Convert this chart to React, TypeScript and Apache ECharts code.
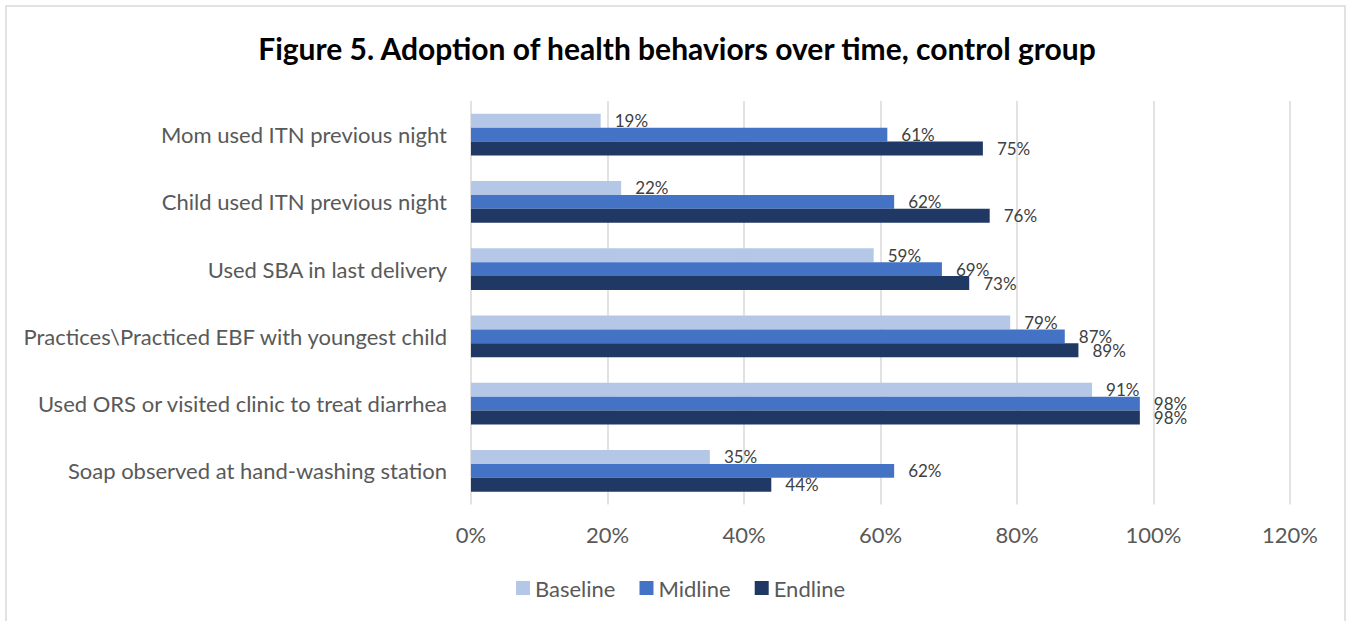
import React, { useEffect, useRef } from "react";
import * as echarts from "echarts";

// Behaviours, top to bottom
const categories = [
  "Mom used ITN previous night",
  "Child used ITN previous night",
  "Used SBA in last delivery",
  "Practices\\Practiced EBF with youngest child",
  "Used ORS or visited clinic to treat diarrhea",
  "Soap observed at hand-washing station",
];

// Percent of respondents per survey round
const baseline = [19, 22, 59, 79, 91, 35];
const midline = [61, 62, 69, 87, 98, 62];
const endline = [75, 76, 73, 89, 98, 44];

const seriesNames = ["Baseline", "Midline", "Endline"];
const seriesColors = ["#B4C7E7", "#4472C4", "#203864"];

const xTicks = { min: 0, max: 120, interval: 20 };

const FONT = "Lato, 'Noto Sans', sans-serif";

export default function App() {
  const ref = useRef<HTMLDivElement>(null);

  useEffect(() => {
    if (!ref.current) return;
    const chart = echarts.init(ref.current, null, { renderer: "svg" });
    const values = [baseline, midline, endline];

    chart.setOption({
      animation: false,
      backgroundColor: "#ffffff",
      textStyle: { fontFamily: FONT },
      graphic: [
        {
          type: "rect",
          shape: { x: 6, y: 6, width: 1339, height: 630 },
          style: { fill: "none", stroke: "#d9d9d9", lineWidth: 1.5 },
          silent: true,
          z: -1,
        },
        {
          type: "text",
          x: 677,
          y: 48,
          style: {
            text: "Figure 5. Adoption of health behaviors over time, control group",
            align: "center",
            verticalAlign: "middle",
            fontFamily: FONT,
            fontSize: 30,
            fontWeight: "bold",
            fill: "#000000",
          },
        },
      ],
      legend: {
        data: seriesNames,
        left: 516,
        top: 577,
        padding: 0,
        itemWidth: 14,
        itemHeight: 14,
        itemGap: 24,
        icon: "rect",
        textStyle: { fontFamily: FONT, fontSize: 22, color: "#595959" },
      },
      grid: { left: 471, right: 56, top: 101, height: 403.5, containLabel: false },
      xAxis: {
        type: "value",
        min: xTicks.min,
        max: xTicks.max,
        interval: xTicks.interval,
        axisLine: { show: false },
        axisTick: { show: false },
        splitLine: { lineStyle: { color: "#d9d9d9", width: 1.5 } },
        axisLabel: {
          formatter: "{value}%",
          fontFamily: FONT,
          fontSize: 22,
          color: "#595959",
          margin: 19,
        },
      },
      yAxis: {
        type: "category",
        inverse: true,
        data: categories,
        axisLine: { show: false },
        axisTick: { show: false },
        axisLabel: {
          fontFamily: FONT,
          fontSize: 22,
          color: "#595959",
          margin: 24,
        },
      },
      series: seriesNames.map((name, i) => ({
        name,
        type: "bar",
        data: values[i],
        barGap: "0%",
        barCategoryGap: "38%",
        itemStyle: { color: seriesColors[i] },
        label: {
          show: true,
          position: "right",
          distance: 14,
          formatter: "{c}%",
          fontFamily: FONT,
          fontSize: 17,
          color: "#404040",
        },
      })),
    });

    return () => chart.dispose();
  }, []);

  return (
    <div
      ref={ref}
      style={{ position: "absolute", left: 0, top: 0, width: 1346, height: 621 }}
    />
  );
}
